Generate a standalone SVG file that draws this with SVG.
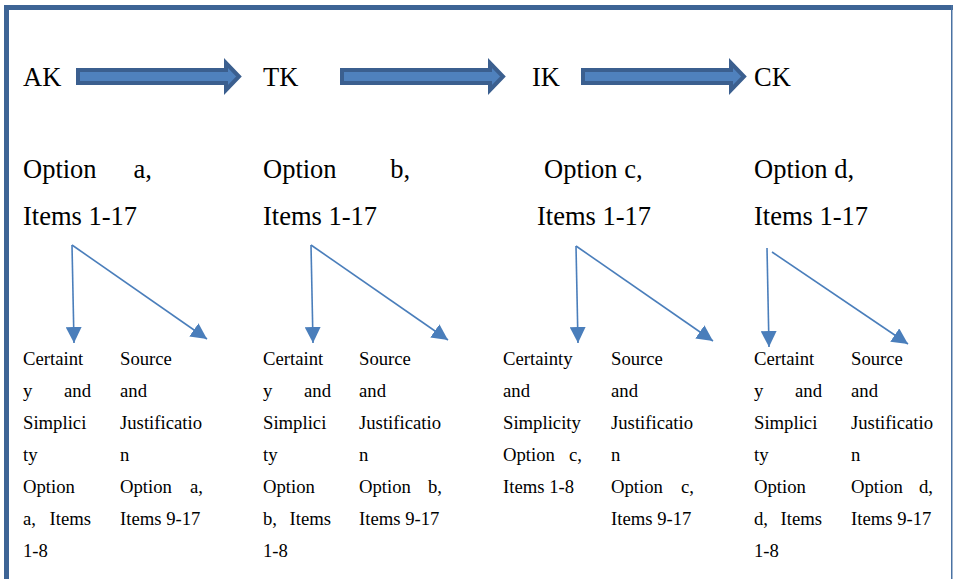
<svg xmlns="http://www.w3.org/2000/svg" width="953" height="579" viewBox="0 0 953 579">
<style>
.big{font-size:26.5px;fill:#000}
.sm{font-size:18.7px;fill:#000}
.e{text-anchor:end}
.ln{stroke:#4a7ebb;stroke-width:1.6;fill:none}
.blk{fill:#4f81bd;stroke:#3b5f8f;stroke-width:4;stroke-linejoin:miter}
</style>
<defs>
<marker id="ah" markerUnits="userSpaceOnUse" markerWidth="16" markerHeight="16" refX="15" refY="7.5" orient="auto" viewBox="0 0 15 15">
<path d="M0,0 L15,7.5 L0,15 z" fill="#4a7ebb"/>
</marker>
</defs>
<rect width="953" height="579" fill="#fff"/>
<g id="frame">
<rect x="4" y="5" width="949" height="5" fill="#3d6495"/>
<rect x="4" y="5" width="5" height="574" fill="#3d6495"/>
<rect x="951" y="5" width="1.5" height="574" fill="#4a72a3"/>
</g>
<g id="connectors">
<path class="blk" d="M78,70 H226 V63 L239,76.5 L226,90 V83 H78 Z"/>
<path class="blk" d="M342,70 H490 V63 L503,76.5 L490,90 V83 H342 Z"/>
<path class="blk" d="M583,70 H731 V63 L744,76.5 L731,90 V83 H583 Z"/>
<line class="ln" x1="72" y1="245" x2="74" y2="343" marker-end="url(#ah)"/>
<line class="ln" x1="72" y1="245" x2="207" y2="339" marker-end="url(#ah)"/>
<line class="ln" x1="311" y1="245" x2="313" y2="343" marker-end="url(#ah)"/>
<line class="ln" x1="311" y1="245" x2="448" y2="340" marker-end="url(#ah)"/>
<line class="ln" x1="576" y1="246" x2="578" y2="343" marker-end="url(#ah)"/>
<line class="ln" x1="576" y1="246" x2="713" y2="341" marker-end="url(#ah)"/>
<line class="ln" x1="767" y1="248" x2="769" y2="347" marker-end="url(#ah)"/>
<line class="ln" x1="772" y1="252" x2="908" y2="344" marker-end="url(#ah)"/>
</g>
<g font-family="Liberation Serif, serif">
<g id="AK"><text class="big" x="23" y="86">AK</text></g>
<g id="TK"><text class="big" x="263" y="86">TK</text></g>
<g id="IK"><text class="big" x="532" y="86">IK</text></g>
<g id="CK"><text class="big" x="754" y="86">CK</text></g>
<g id="optA">
<text class="big" x="23" y="178">Option</text><text class="big e" x="152" y="178">a,</text>
<text class="big" x="23" y="225">Items 1-17</text>
</g>
<g id="optB">
<text class="big" x="263" y="178">Option</text><text class="big e" x="410" y="178">b,</text>
<text class="big" x="263" y="225">Items 1-17</text>
</g>
<g id="optC">
<text class="big" x="544" y="178">Option c,</text>
<text class="big" x="537" y="225">Items 1-17</text>
</g>
<g id="optD">
<text class="big" x="754" y="178">Option d,</text>
<text class="big" x="754" y="225">Items 1-17</text>
</g>
<g id="csA">
<text class="sm" x="23" y="365">Certaint</text>
<text class="sm" x="23" y="397">y</text><text class="sm e" x="91" y="397">and</text>
<text class="sm" x="23" y="429">Simplici</text>
<text class="sm" x="23" y="461">ty</text>
<text class="sm" x="23" y="493">Option</text>
<text class="sm" x="23" y="525">a,</text><text class="sm e" x="91" y="525">Items</text>
<text class="sm" x="23" y="557">1-8</text>
</g>
<g id="sjA">
<text class="sm" x="120" y="365">Source</text>
<text class="sm" x="120" y="397">and</text>
<text class="sm" x="120" y="429">Justificatio</text>
<text class="sm" x="120" y="461">n</text>
<text class="sm" x="120" y="493">Option</text><text class="sm e" x="203" y="493">a,</text>
<text class="sm" x="120" y="525">Items 9-17</text>
</g>
<g id="csB">
<text class="sm" x="263" y="365">Certaint</text>
<text class="sm" x="263" y="397">y</text><text class="sm e" x="331" y="397">and</text>
<text class="sm" x="263" y="429">Simplici</text>
<text class="sm" x="263" y="461">ty</text>
<text class="sm" x="263" y="493">Option</text>
<text class="sm" x="263" y="525">b,</text><text class="sm e" x="331" y="525">Items</text>
<text class="sm" x="263" y="557">1-8</text>
</g>
<g id="sjB">
<text class="sm" x="359" y="365">Source</text>
<text class="sm" x="359" y="397">and</text>
<text class="sm" x="359" y="429">Justificatio</text>
<text class="sm" x="359" y="461">n</text>
<text class="sm" x="359" y="493">Option</text><text class="sm e" x="442" y="493">b,</text>
<text class="sm" x="359" y="525">Items 9-17</text>
</g>
<g id="csC">
<text class="sm" x="503" y="365">Certainty</text>
<text class="sm" x="503" y="397">and</text>
<text class="sm" x="503" y="429">Simplicity</text>
<text class="sm" x="503" y="461">Option</text><text class="sm e" x="582" y="461">c,</text>
<text class="sm" x="503" y="493">Items 1-8</text>
</g>
<g id="sjC">
<text class="sm" x="611" y="365">Source</text>
<text class="sm" x="611" y="397">and</text>
<text class="sm" x="611" y="429">Justificatio</text>
<text class="sm" x="611" y="461">n</text>
<text class="sm" x="611" y="493">Option</text><text class="sm e" x="694" y="493">c,</text>
<text class="sm" x="611" y="525">Items 9-17</text>
</g>
<g id="csD">
<text class="sm" x="754" y="365">Certaint</text>
<text class="sm" x="754" y="397">y</text><text class="sm e" x="822" y="397">and</text>
<text class="sm" x="754" y="429">Simplici</text>
<text class="sm" x="754" y="461">ty</text>
<text class="sm" x="754" y="493">Option</text>
<text class="sm" x="754" y="525">d,</text><text class="sm e" x="822" y="525">Items</text>
<text class="sm" x="754" y="557">1-8</text>
</g>
<g id="sjD">
<text class="sm" x="851" y="365">Source</text>
<text class="sm" x="851" y="397">and</text>
<text class="sm" x="851" y="429">Justificatio</text>
<text class="sm" x="851" y="461">n</text>
<text class="sm" x="851" y="493">Option</text><text class="sm e" x="933" y="493">d,</text>
<text class="sm" x="851" y="525">Items 9-17</text>
</g>
</g>
</svg>
